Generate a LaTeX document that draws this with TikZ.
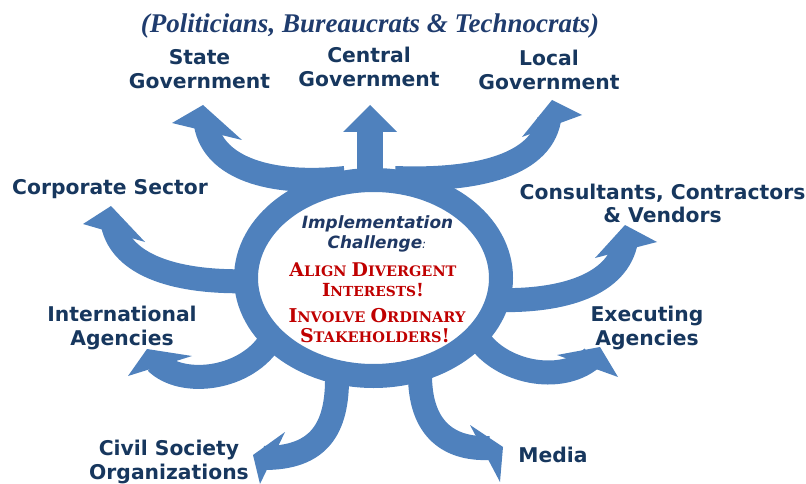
\documentclass[tikz,border=0pt]{standalone}
\usepackage{fontspec}
\usepackage{graphicx}
\setmainfont{DejaVu Sans}
\newfontfamily\titlefont{Liberation Serif}
\newfontfamily\redfont{DejaVu Serif}
\definecolor{abl}{RGB}{79,129,189}
\definecolor{lnavy}{RGB}{23,55,94}
\definecolor{tnavy}{RGB}{31,60,110}
\definecolor{implc}{RGB}{31,56,100}
\definecolor{redc}{RGB}{192,0,0}
\newcommand\mybigc[1]{{\fontsize{15pt}{15pt}\selectfont #1}}
\newcommand\mysmallc[1]{{\fontsize{11.5pt}{15pt}\selectfont #1}}
\begin{document}
\begin{tikzpicture}[x=1pt,y=-1pt,
  shaft/.style={line width=24pt, draw=abl},
  head/.style={fill=abl, draw=none},
  lbl/.style={font=\fontsize{20.3pt}{24pt}\selectfont\bfseries, text=lnavy, align=center,
              inner sep=0pt, anchor=base},
  redtxt/.style={text=redc, font=\redfont\bfseries\fontsize{11.5pt}{14pt}\selectfont,
              inner sep=0pt, text depth=0pt},
  impltxt/.style={text=implc, font=\fontsize{16.9pt}{20pt}\selectfont\bfseries\itshape, inner sep=0pt}]
\useasboundingbox (0,0) rectangle (806,484);
% shafts
\draw[shaft] (345,178) .. controls (270,186) and (214,168) .. (206,125);
\draw[shaft] (395,178) .. controls (470,181) and (540,168) .. (549,120);
\draw[line width=26pt, draw=abl] (370,175) -- (370,128);
\draw[shaft] (255,281) .. controls (175,284) and (122,265) .. (113,225);
\draw[shaft] (272,338) .. controls (248,380) and (182,388) .. (156,362);
\draw[shaft] (337,375) .. controls (338,430) and (318,458) .. (264,458);
\draw[shaft] (420,375) .. controls (420,425) and (445,450) .. (490,448);
\draw[shaft] (478,338) .. controls (500,372) and (560,385) .. (592,358);
\draw[shaft] (495,300) .. controls (565,302) and (618,284) .. (626,241);
% heads
\fill[head] (172,123) -- (203,105) -- (242,140) -- cycle;
\fill[head] (343,132) -- (370,105) -- (397,132) -- cycle;
\fill[head] (522,137) -- (552,100) -- (582,115) -- cycle;
\fill[head] (83,224) -- (111,206) -- (145,242) -- cycle;
\fill[head] (128,376) -- (147,349) -- (192,356) -- cycle;
\fill[head] (285,432) -- (253,455) -- (260,484) -- cycle;
\fill[head] (470,425) -- (503,447) -- (500,482) -- cycle;
\fill[head] (557,355) -- (600,347) -- (618,377) -- cycle;
\fill[head] (595,258) -- (625,225) -- (657,242) -- cycle;
% ring
\draw[line width=24pt, draw=abl, fill=white] (373.5,278) ellipse [x radius=127.5, y radius=98];
% title
\node[text=tnavy, inner sep=0pt, anchor=base] (title) at (370,33)
  {\resizebox{458pt}{!}{\titlefont\bfseries\itshape (Politicians, Bureaucrats \& Technocrats)}};
% labels
\node[lbl] (state) at (199.5,89) {State\\Government};
\node[lbl] (central) at (369,87) {Central\\Government};
\node[lbl] (local) at (549,90) {Local\\Government};
\node[lbl] (corp) at (110,194.5) {Corporate Sector};
\node[lbl] (intl) at (122,345.5) {International\\Agencies};
\node[lbl] (civil) at (169,479.5) {Civil Society\\Organizations};
\node[lbl, font=\fontsize{20.3pt}{23pt}\selectfont\bfseries] (cons) at (662.5,222.5) {Consultants, Contractors\\\& Vendors};
\node[lbl] (exec) at (647,345.5) {Executing\\Agencies};
\node[lbl] (media) at (553,462.5) {Media};
% centre text
\node[impltxt, anchor=base] (impl1) at (377.5,228) {Implementation};
\node[impltxt, anchor=base] (impl2) at (377,248) {Challenge{\mdseries\fontsize{12pt}{12pt}\selectfont:}};
\node[redtxt] (r1) at (373,270) {\resizebox{167pt}{!}{\mybigc{A}\mysmallc{LIGN} \mybigc{D}\mysmallc{IVERGENT}}};
\node[redtxt] (r2) at (373,290) {\resizebox{102pt}{!}{\mybigc{I}\mysmallc{NTERESTS}\mybigc{!}}};
\node[redtxt] (r3) at (377,315) {\resizebox{177pt}{!}{\mybigc{I}\mysmallc{NVOLVE} \mybigc{O}\mysmallc{RDINARY}}};
\node[redtxt] (r4) at (375,335) {\resizebox{150pt}{!}{\mybigc{S}\mysmallc{TAKEHOLDERS}\mybigc{!}}};
\end{tikzpicture}
\end{document}
